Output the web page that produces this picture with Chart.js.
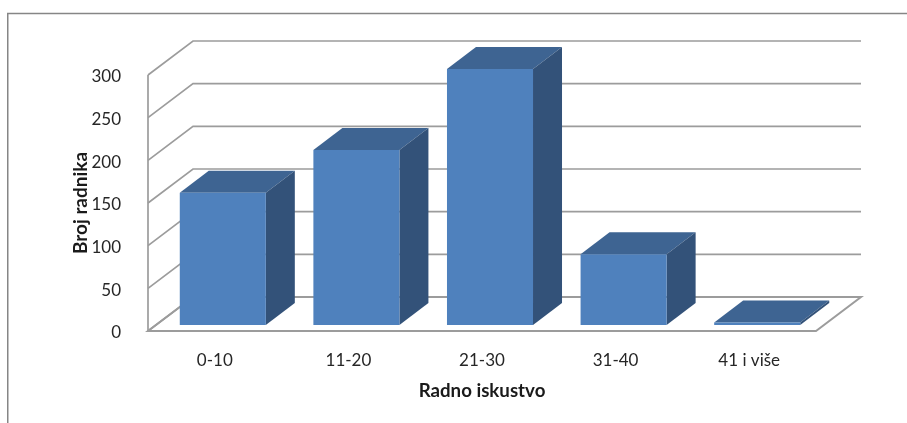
<!DOCTYPE html>
<html lang="sr">
<head>
    <meta charset="UTF-8">
    <title>Broj radnika</title>
    <script src="https://cdn.jsdelivr.net/npm/chart.js"></script>
    <style>
        html, body { margin: 0; padding: 0; background: #fff; }
        canvas { display: block; }
    </style>
</head>
<body>
    <canvas id="chart" width="907" height="423"></canvas>
    <script type="text/javascript">
        const categories = ['0-10', '11-20', '21-30', '31-40', '41 i više'];
        const workers = [155, 205, 300, 83, 3];
        const yTicks = [0, 50, 100, 150, 200, 250, 300];

        // fake 3D: how far the back wall and the bars are pushed
        const wall = { dx: 45, dy: 34 };
        const barFront = { dx: 8, dy: 6 };
        const barDepth = { dx: 29, dy: 22 };

        function poly(ctx, pts, fill) {
            ctx.beginPath();
            pts.forEach((p, i) => i ? ctx.lineTo(p[0], p[1]) : ctx.moveTo(p[0], p[1]));
            ctx.closePath();
            if (fill) {
                ctx.fillStyle = fill;
                ctx.fill();
            }
        }

        const box3d = {
            id: 'box3d',
            beforeDatasetsDraw(chart) {
                const ctx = chart.ctx;
                const area = chart.chartArea;
                const y = chart.scales.y;

                ctx.save();
                // outer frame, only top and left show in the picture
                ctx.strokeStyle = '#868686';
                ctx.lineWidth = 1.5;
                ctx.beginPath();
                ctx.moveTo(7.75, 423);
                ctx.lineTo(7.75, 13.5);
                ctx.lineTo(907, 13.5);
                ctx.stroke();

                // gridlines over side wall and back wall
                ctx.strokeStyle = '#9c9c9c';
                ctx.lineWidth = 1.7;
                yTicks.forEach(v => {
                    const py = y.getPixelForValue(v);
                    ctx.beginPath();
                    ctx.moveTo(area.left, py);
                    ctx.lineTo(area.left + wall.dx, py - wall.dy);
                    ctx.lineTo(area.right + wall.dx, py - wall.dy);
                    ctx.stroke();
                });

                // floor outline
                const py0 = y.getPixelForValue(0);
                ctx.lineWidth = 2;
                poly(ctx, [
                    [area.left, py0],
                    [area.right, py0],
                    [area.right + wall.dx, py0 - wall.dy],
                    [area.left + wall.dx, py0 - wall.dy]
                ]);
                ctx.stroke();

                // left edge
                ctx.lineWidth = 1.7;
                ctx.beginPath();
                ctx.moveTo(area.left, y.getPixelForValue(300));
                ctx.lineTo(area.left, py0);
                ctx.stroke();
                ctx.restore();
            },
            beforeDatasetDraw(chart, args) {
                const ctx = chart.ctx;
                ctx.save();
                ctx.translate(barFront.dx, -barFront.dy);
                args.meta.data.forEach(bar => {
                    const x0 = bar.x - bar.width / 2;
                    const x1 = bar.x + bar.width / 2;
                    const dx = barDepth.dx;
                    const dy = barDepth.dy;
                    poly(ctx, [[x0, bar.y], [x1, bar.y], [x1 + dx, bar.y - dy], [x0 + dx, bar.y - dy]], '#3e6492');
                    poly(ctx, [[x1, bar.y], [x1 + dx, bar.y - dy], [x1 + dx, bar.base - dy], [x1, bar.base]], '#335279');
                });
            },
            afterDatasetDraw(chart) {
                chart.ctx.restore();
            }
        };

        new Chart(document.getElementById('chart'), {
            type: 'bar',
            data: {
                labels: categories,
                datasets: [{
                    label: 'Broj radnika',
                    data: workers,
                    backgroundColor: '#4f81bd',
                    barPercentage: 1,
                    categoryPercentage: 0.644,
                    clip: false
                }]
            },
            options: {
                responsive: false,
                devicePixelRatio: 1,
                animation: false,
                events: [],
                layout: { padding: { top: 75, right: 91, bottom: 0, left: 0 } },
                plugins: {
                    legend: { display: false },
                    tooltip: { enabled: false }
                },
                scales: {
                    x: {
                        grid: { display: false },
                        border: { display: false },
                        ticks: { color: '#262626', font: { family: 'Lato', size: 17 }, padding: 11, maxRotation: 0 },
                        title: {
                            display: true,
                            text: 'Radno iskustvo',
                            color: '#1a1a1a',
                            font: { family: 'Lato', size: 18.7, weight: 'bold' },
                            padding: { top: 0, bottom: 21 }
                        },
                        afterFit(axis) { axis.height = 92; }
                    },
                    y: {
                        min: 0,
                        max: 300,
                        grid: { display: false },
                        border: { display: false },
                        ticks: {
                            stepSize: 50,
                            color: '#262626',
                            font: { family: 'Lato', size: 17 },
                            padding: 19,
                            labelOffset: 2
                        },
                        title: {
                            display: true,
                            text: 'Broj radnika',
                            color: '#1a1a1a',
                            font: { family: 'Lato', size: 19, weight: 'bold' },
                            padding: { top: 69, bottom: 0 }
                        },
                        afterFit(axis) { axis.width = 148; }
                    }
                }
            },
            plugins: [box3d]
        });
    </script>
</body>
</html>
